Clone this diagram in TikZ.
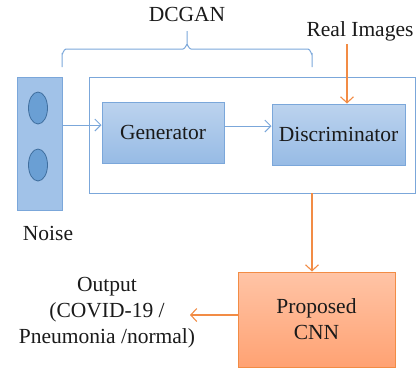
\documentclass[tikz,border=0pt]{standalone}
\usepackage{fontspec}
\setmainfont{Liberation Serif}
\usetikzlibrary{arrows.meta,shapes.geometric,positioning}
\definecolor{bline}{HTML}{7BA7DA}
\definecolor{btop}{HTML}{BCD3EE}
\definecolor{bbot}{HTML}{97BBE5}
\definecolor{ellfill}{HTML}{6A9FD4}
\definecolor{elldraw}{HTML}{3F6E9E}
\definecolor{oline}{HTML}{F28C45}
\definecolor{otop}{HTML}{FFC4A6}
\definecolor{obot}{HTML}{FFA273}
\definecolor{txt}{HTML}{1A1A1A}
\begin{document}
\begin{tikzpicture}[x=1pt,y=-1pt,
  font=\fontsize{21.5}{26}\selectfont, text=txt,
  bluebox/.style={draw=bline, line width=1pt, top color=btop, bottom color=bbot, inner sep=0pt},
  barrow/.style={draw=bline, line width=1pt, -{Straight Barb[length=6pt,width=12pt]}},
  oarrow/.style={draw=oline, line width=1.1pt, -{Straight Barb[length=6pt,width=13pt]}},
  dot/.style={ellipse, draw=elldraw, line width=0.8pt, fill=ellfill, minimum width=19pt, minimum height=32pt, inner sep=0pt},
  plain/.style={align=center, inner sep=0pt}]
\useasboundingbox (0,0) rectangle (418,373);
% noise column
\node[draw=bline, line width=1pt, fill=bbot!90!white, minimum width=45pt, minimum height=133pt, inner sep=0pt] (noise) at (40,143.5) {};
\node[dot] (d1) at (38,108) {};
\node[dot] (d2) at (38,165) {};
\node[plain] (noiselbl) at (48,233) {Noise};
% outer DCGAN box
\node[draw=bline, line width=1pt, minimum width=326pt, minimum height=116pt, inner sep=0pt] (outer) at (252,135) {};
\node[bluebox, minimum width=122pt, minimum height=61pt] (gen) at (163,132.5) {Generator};
\node[bluebox, minimum width=133pt, minimum height=61pt] (disc) at (338.5,134.5) {Discriminator};
% brace
\draw[bline, line width=1pt] (62,67) -- (62,54) to[out=-90,in=180] (66,49) -- (183,49) to[out=0,in=90] (187,45) -- (187,31);
\draw[bline, line width=1pt] (187,45) to[out=90,in=180] (191,49) -- (308,49) to[out=0,in=-90] (312,54) -- (312,67);
\node[plain] (dcgan) at (187,14) {DCGAN};
\node[plain] (real) at (360,31) {Real Images};
\coordinate (realend) at (347,44);
% CNN
\node[draw=oline, line width=1pt, top color=otop, bottom color=obot, minimum width=157pt, minimum height=95pt, inner sep=0pt, align=center] (cnn) at (316.5,319.5) {Proposed\\CNN};
\node[plain] (out) at (107,313) {Output\\(COVID-19 /\\Pneumonia /normal)};
\coordinate (outend) at (190,315);
\coordinate (outerbot) at (312,193);
% arrows
\draw[barrow] (noise.east |- 0,125) -- (gen.west |- 0,125);
\draw[barrow] (gen.east |- 0,126) -- (disc.west |- 0,126);
\draw[oarrow] (realend) -- (realend |- disc.north);
\draw[oarrow] (outerbot) -- (outerbot |- cnn.north);
\draw[oarrow] (cnn.west |- outend) -- (outend);
\end{tikzpicture}
\end{document}
